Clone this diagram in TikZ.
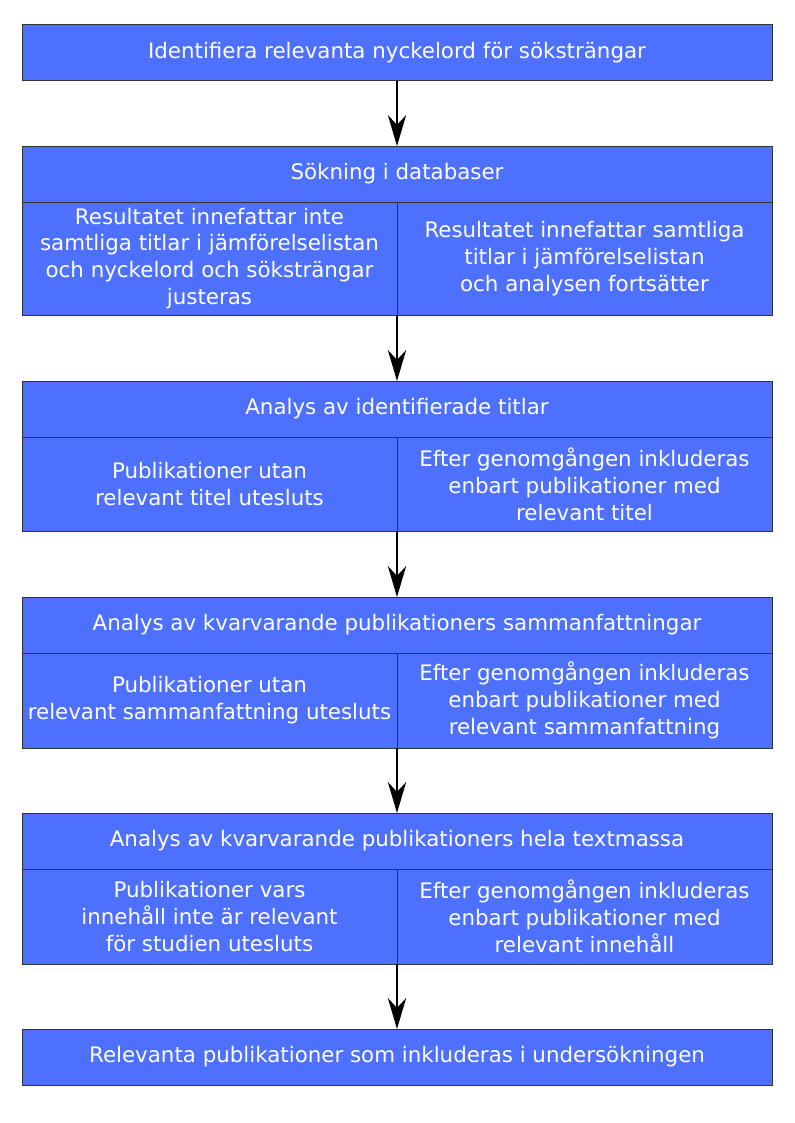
\documentclass[tikz,border=0pt]{standalone}
\usepackage{fontspec}
\setmainfont{DejaVu Sans}
\usepackage{xcolor}
\usepackage{tikz}
\usetikzlibrary{arrows.meta,positioning}
\definecolor{stepblue}{HTML}{4E70FF}
\definecolor{stepedge}{HTML}{333333}

\begin{document}
\begin{tikzpicture}[
  font=\fontsize{15.2}{19.1}\selectfont, >=Stealth,
  headbox/.style={draw=stepedge, fill=stepblue, text=white, align=center, minimum width=18.75cm, minimum height=1.4cm, inner sep=0pt, outer sep=0pt},
  cellbox/.style={draw=stepedge, fill=stepblue, text=white, align=center, minimum width=9.375cm, inner sep=0pt, outer sep=0pt},
  flow/.style={->, line width=1.4pt, >={Stealth[length=22pt, width=13pt, inset=7pt]}}
]
\useasboundingbox (0,0) rectangle (19.85,-28.075);

% -- Step 1
\node[headbox] (h1) at (9.925,-1.3125) {Identifiera relevanta nyckelord för söksträngar};

% -- Step 2: search, with two outcomes side by side
\node[headbox] (h2) at (9.925,-4.35) {Sökning i databaser};
\node[cellbox, minimum height=2.825cm] (c2l) at (5.2375,-6.4625)
  {Resultatet innefattar inte\\samtliga titlar i jämförelselistan\\och nyckelord och söksträngar\\justeras};
\node[cellbox, minimum height=2.825cm] (c2r) at (14.6125,-6.4625)
  {Resultatet innefattar samtliga\\titlar i jämförelselistan\\och analysen fortsätter};

% -- Step 3: titles
\node[headbox] (h3) at (9.925,-10.225) {Analys av identifierade titlar};
\node[cellbox, minimum height=2.35cm] (c3l) at (5.2375,-12.1)
  {Publikationer utan\\relevant titel utesluts};
\node[cellbox, minimum height=2.35cm] (c3r) at (14.6125,-12.1)
  {Efter genomgången inkluderas\\enbart publikationer med\\relevant titel};

% -- Step 4: abstracts
\node[headbox] (h4) at (9.925,-15.625) {Analys av kvarvarande publikationers sammanfattningar};
\node[cellbox, minimum height=2.375cm] (c4l) at (5.2375,-17.5125)
  {Publikationer utan\\relevant sammanfattning utesluts};
\node[cellbox, minimum height=2.375cm] (c4r) at (14.6125,-17.5125)
  {Efter genomgången inkluderas\\enbart publikationer med\\relevant sammanfattning};

% -- Step 5: full text
\node[headbox] (h5) at (9.925,-21.025) {Analys av kvarvarande publikationers hela textmassa};
\node[cellbox, minimum height=2.375cm] (c5l) at (5.2375,-22.9125)
  {Publikationer vars\\innehåll inte är relevant\\för studien utesluts};
\node[cellbox, minimum height=2.375cm] (c5r) at (14.6125,-22.9125)
  {Efter genomgången inkluderas\\enbart publikationer med\\relevant innehåll};

% -- Result
\node[headbox] (h6) at (9.925,-26.425) {Relevanta publikationer som inkluderas i undersökningen};

% -- Arrows down the middle
\draw[flow] (h1.south) -- (h2.north);
\draw[flow] (c2l.south east) -- (h3.north);
\draw[flow] (c3l.south east) -- (h4.north);
\draw[flow] (c4l.south east) -- (h5.north);
\draw[flow] (c5l.south east) -- (h6.north);
\end{tikzpicture}
\end{document}
